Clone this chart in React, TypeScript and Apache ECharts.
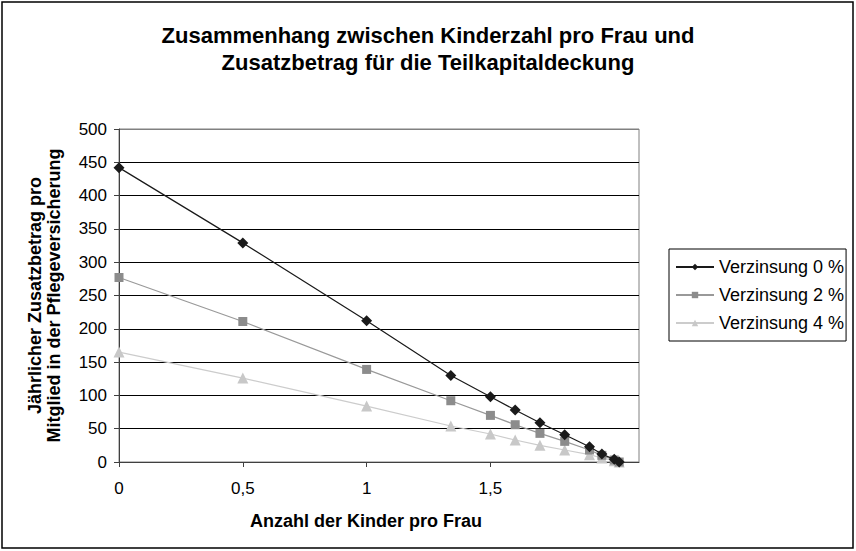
import React, { useEffect, useRef } from "react";
import * as echarts from "echarts";

const kinder = [0, 0.5, 1, 1.34, 1.5, 1.6, 1.7, 1.8, 1.9, 1.95, 2.0, 2.02];
const verz0 = [442, 329, 212, 130, 98, 78, 59, 41, 23, 12, 4, 0];
const verz2 = [277, 211, 139, 92, 70, 56, 43, 31, 18, 10, 3, 0];
const verz4 = [165, 126, 84, 54, 42, 33, 25, 18, 11, 6, 2, 0];
const seriesNames = ["Verzinsung 0 %", "Verzinsung 2 %", "Verzinsung 4 %"];
const xTicks = [0, 0.5, 1, 1.5, 2];

const FONT = "Liberation Sans, Arial, sans-serif";

export default function App() {
  const ref = useRef<HTMLDivElement>(null);
  useEffect(() => {
    if (!ref.current) return;
    const chart = echarts.init(ref.current, null, { renderer: "svg" });
    const pair = (ys: number[]) => kinder.map((x, i) => [x, ys[i]]);
    const splitColors = [
      "#000", "#000", "#000", "#000", "#000", "#000", "#000", "#000", "#000", "#000", "#808080",
    ];
    chart.setOption({
      animation: false,
      backgroundColor: "#fff",
      textStyle: { fontFamily: FONT },
      title: {
        text: "Zusammenhang zwischen Kinderzahl pro Frau und\nZusatzbetrag für die Teilkapitaldeckung",
        left: "center",
        top: 22,
        padding: 0,
        textStyle: { fontSize: 22, fontWeight: "bold", color: "#000", lineHeight: 27, fontFamily: FONT },
      },
      legend: {
        orient: "vertical",
        left: 669,
        top: 249,
        padding: [9, 2, 9, 6],
        itemGap: 10,
        itemWidth: 38,
        itemHeight: 8,
        borderColor: "#000",
        borderWidth: 1,
        backgroundColor: "#fff",
        textStyle: { fontSize: 18, color: "#000", fontFamily: FONT },
        data: seriesNames,
      },
      graphic: [
        {
          type: "rect",
          shape: { x: 2, y: 2, width: 851, height: 546 },
          style: { fill: "none", stroke: "#000", lineWidth: 1.5 },
          silent: true,
          z: 100,
        },
      ],
      grid: {
        left: 119,
        right: 217,
        top: 129,
        bottom: 89,
        show: true,
        borderColor: "#808080",
        borderWidth: 1,
        backgroundColor: "transparent",
      },
      xAxis: {
        type: "value",
        min: 0,
        max: 2.1,
        interval: 0.5,
        name: "Anzahl der Kinder pro Frau",
        nameLocation: "middle",
        nameGap: 50,
        nameTextStyle: { fontSize: 18, fontWeight: "bold", color: "#000", padding: [0, 26, 0, 0], fontFamily: FONT },
        axisLine: { show: true, onZero: false, lineStyle: { color: "#404040", width: 1 } },
        axisTick: { show: true, length: 5, lineStyle: { color: "#404040" }, customValues: xTicks },
        axisLabel: {
          fontSize: 17,
          color: "#000",
          margin: 18,
          customValues: xTicks,
          showMaxLabel: false,
          formatter: (v: number) => (v > 2.05 ? "" : String(v).replace(".", ",")),
        },
        splitLine: { show: false },
      },
      yAxis: {
        type: "value",
        min: 0,
        max: 500,
        interval: 50,
        name: "Jährlicher Zusatzbetrag pro\nMitglied in der Pflegeversicherung",
        nameLocation: "middle",
        nameGap: 56,
        nameRotate: 90,
        nameTextStyle: { fontSize: 18, fontWeight: "bold", color: "#000", lineHeight: 19, fontFamily: FONT },
        axisLine: { show: true, lineStyle: { color: "#404040", width: 1 } },
        axisTick: { show: true, length: 5, lineStyle: { color: "#404040" } },
        axisLabel: { fontSize: 17, color: "#000", margin: 12 },
        splitLine: { show: true, lineStyle: { color: splitColors, width: 1 } },
      },
      series: [
        {
          name: seriesNames[0],
          type: "line",
          data: pair(verz0),
          symbol: "diamond",
          symbolSize: 11,
          lineStyle: { color: "#1a1a1a", width: 1.2 },
          itemStyle: { color: "#1a1a1a" },
          z: 4,
        },
        {
          name: seriesNames[1],
          type: "line",
          data: pair(verz2),
          symbol: "rect",
          symbolSize: 9,
          lineStyle: { color: "#999999", width: 1.2 },
          itemStyle: { color: "#8c8c8c" },
          z: 3,
        },
        {
          name: seriesNames[2],
          type: "line",
          data: pair(verz4),
          symbol: "triangle",
          symbolSize: 11,
          lineStyle: { color: "#cccccc", width: 1.2 },
          itemStyle: { color: "#c8c8c8" },
          z: 2,
        },
      ],
    });
    return () => chart.dispose();
  }, []);
  return (
    <div
      ref={ref}
      style={{ position: "fixed", left: 0, top: 0, width: 856, height: 551 }}
    />
  );
}
